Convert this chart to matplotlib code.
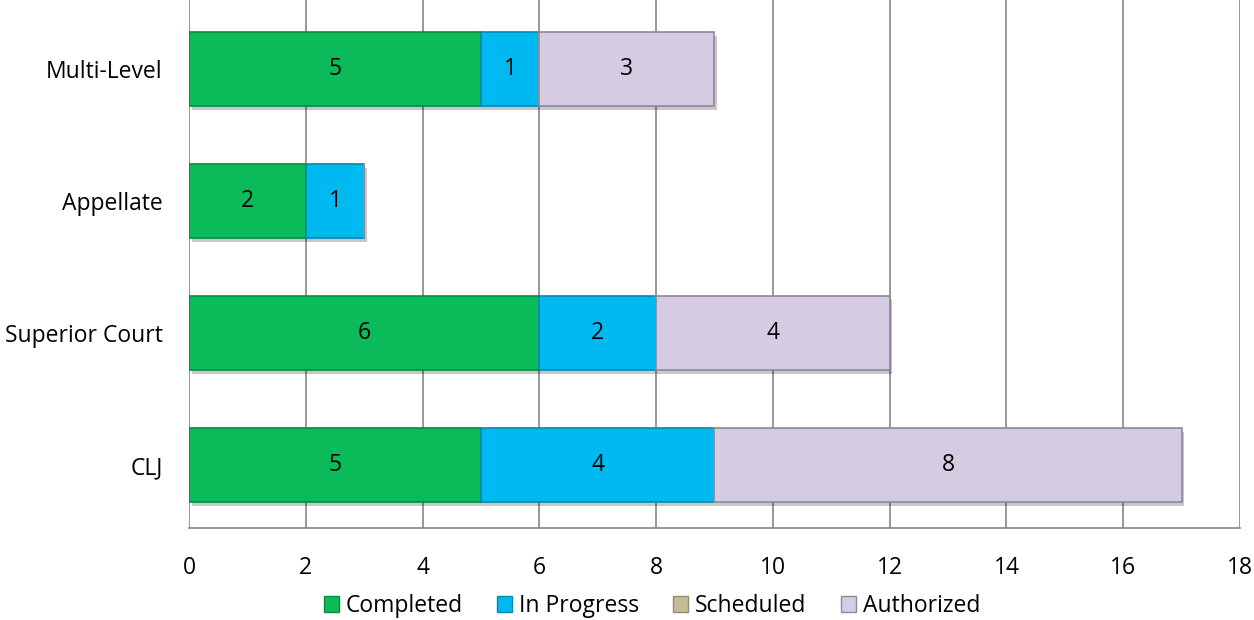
import matplotlib
matplotlib.use("Agg")
import matplotlib.pyplot as plt
import matplotlib.patheffects as pe
from matplotlib.patches import Patch
import numpy as np

plt.rcParams['font.family'] = ['Open Sans', 'DejaVu Sans']

categories = ["CLJ", "Superior Court", "Appellate", "Multi-Level"]
series_names = ["Completed", "In Progress", "Scheduled", "Authorized"]
completed = [5, 6, 2, 5]
in_progress = [4, 2, 1, 1]
scheduled = [0, 0, 0, 0]
authorized = [8, 4, 0, 3]
series_values = [completed, in_progress, scheduled, authorized]
colors = ["#0BBA58", "#00B9F1", "#C4BD97", "#D5CCE3"]
edges = ["#078A40", "#0089B5", "#938D6E", "#8E8899"]
xticks = list(range(0, 20, 2))

FS = 16.5
fig = plt.figure(figsize=(12.54, 6.2), dpi=100)
ax = fig.add_axes([189/1254, 1-528/620, (1240-189)/1254, 528/620])

y = np.arange(len(categories))
left = np.zeros(len(categories))
for name, vals, c, ec in zip(series_names, series_values, colors, edges):
    vals = np.array(vals, dtype=float)
    bars = ax.barh(y, vals, left=left, height=0.56, color=c, edgecolor=ec,
                   linewidth=1.2, zorder=3, label=name)
    for b, v in zip(bars, vals):
        if v > 0:
            b.set_path_effects([pe.SimplePatchShadow(offset=(2, -3), shadow_rgbFace="#000000", alpha=0.22),
                                pe.Normal()])
            ax.text(b.get_x() + b.get_width()/2, b.get_y() + b.get_height()/2,
                    f"{int(v)}", ha="center", va="center", fontsize=FS, color="black", zorder=5)
    left += vals

ax.set_xlim(0, 18)
ax.set_ylim(-0.477, 3.523)
ax.set_xticks(xticks)
ax.set_xticklabels([str(t) for t in xticks], fontsize=FS)
ax.set_yticks(y)
ax.set_yticklabels(categories, fontsize=FS)
ax.tick_params(axis='both', length=0)
ax.tick_params(axis='x', pad=20)
ax.tick_params(axis='y', pad=19)
ax.grid(axis='x', color="#868686", linewidth=1.2, zorder=0)
ax.set_axisbelow(True)
for s in ["top", "right", "left"]:
    ax.spines[s].set_visible(False)
ax.spines["bottom"].set_color("#868686")
ax.spines["bottom"].set_linewidth(1.2)

handles = [Patch(facecolor=c, edgecolor=ec, label=n) for n, c, ec in zip(series_names, colors, edges)]
fig.legend(handles=handles, loc="center", bbox_to_anchor=(652/1254, 1-606/620), ncol=4,
           frameon=False, fontsize=FS, handlelength=0.65, handleheight=0.65,
           handletextpad=0.3, columnspacing=1.5)

fig.savefig("out.png", dpi=100)
